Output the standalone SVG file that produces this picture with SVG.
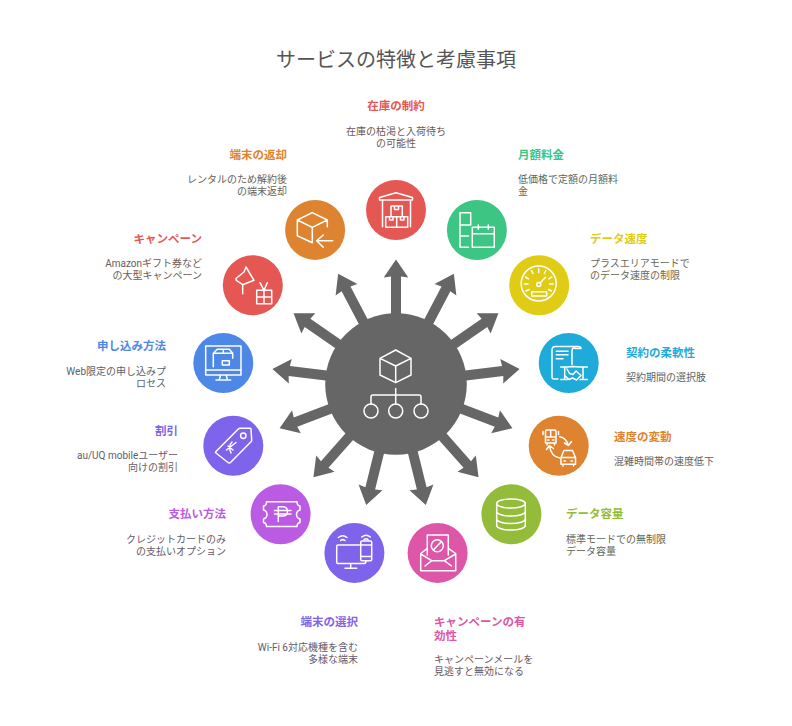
<svg xmlns="http://www.w3.org/2000/svg" width="792" height="726" viewBox="0 0 792 726">
<style>
text{font-family:"Roboto","Noto Sans CJK JP",sans-serif}
.title{font-size:20px;fill:#555;text-anchor:middle}
.l{font-size:11.5px;font-weight:700}
.d{font-size:10px}
.s{text-anchor:start}.e{text-anchor:end}.m{text-anchor:middle}
.i{fill:none;stroke:#fff;stroke-width:1.5;stroke-linejoin:round;stroke-linecap:round}
</style>
<defs>
<path id="arrow" d="M391 320V276.5L383.7 277.5L396 259.5L408.3 277.5L401 276.5V320Z" fill="#666"/>
</defs>
<rect width="792" height="726" fill="#fff"/>
<text class="title" x="396" y="66.5">サービスの特徴と考慮事項</text>
<g id="connectors">
<use href="#arrow"/>
<use href="#arrow" transform="rotate(27.69 396 384)"/>
<use href="#arrow" transform="rotate(55.38 396 384)"/>
<use href="#arrow" transform="rotate(83.08 396 384)"/>
<use href="#arrow" transform="rotate(110.77 396 384)"/>
<use href="#arrow" transform="rotate(138.46 396 384)"/>
<use href="#arrow" transform="rotate(166.15 396 384)"/>
<use href="#arrow" transform="rotate(193.85 396 384)"/>
<use href="#arrow" transform="rotate(221.54 396 384)"/>
<use href="#arrow" transform="rotate(249.23 396 384)"/>
<use href="#arrow" transform="rotate(276.92 396 384)"/>
<use href="#arrow" transform="rotate(304.62 396 384)"/>
<use href="#arrow" transform="rotate(332.31 396 384)"/>
</g>
<g id="hub">
<circle cx="396" cy="384" r="70.8" fill="#666"/>
<path class="i" d="M395.7 350L411 358.3V375L395.7 382.7L380 375V358.3ZM380 358.3L395.7 366L411 358.3M395.7 366V382.7M395.7 388.5V404M371 404V397Q371 395 373 395H419Q421 395 421 397V404"/>
<circle class="i" cx="371" cy="411" r="7"/><circle class="i" cx="395.7" cy="411" r="7"/><circle class="i" cx="421" cy="411" r="7"/>
</g>
<g id="n1">
<circle cx="396" cy="210" r="30" fill="#e55753"/>
<path class="i" d="M379.5 200V197.5L396 192.7L412.5 197.5V200ZM382.5 200V226.7M410.5 200V226.7M385.7 216.7H396.7V227.3H385.7ZM396.7 216.7H407.7V227.3H396.7ZM391 206H402.3V216.7H391ZM394.5 206V209.5H398.5V206M389.5 216.7V220H393V216.7M400.5 216.7V220H404V216.7"/>
<text class="l m" x="396" y="110" fill="#e55753">在庫の制約</text>
<text class="d m" x="396" y="135" fill="#6b5a59">在庫の枯渇と入荷待ち</text>
<text class="d m" x="396" y="147" fill="#6b5a59">の可能性</text>
</g>
<g id="n2">
<circle cx="476.9" cy="230" r="30" fill="#3cc583"/>
<path class="i" d="M460 212.7H470.7V225H460ZM460 225V247.3H468.5M460 236H468.5M472.3 227.3H494.3V247.3H472.3ZM472.3 233.8H494.3M478.3 225V229.3M488.3 225V229.3"/>
<text class="l s" x="518" y="159" fill="#3cc583">月額料金</text>
<text class="d s" x="518" y="183" fill="#596a61">低価格で定額の月額料</text>
<text class="d s" x="518" y="195" fill="#596a61">金</text>
</g>
<g id="n3">
<circle cx="539.2" cy="285.2" r="30" fill="#e0cb15"/>
<circle class="i" cx="538.7" cy="283.5" r="17.5"/><circle class="i" cx="538.7" cy="284.5" r="2"/>
<path class="i" d="M540.2 283L545.5 277.3M531.7 291.7H546.7V296H531.7ZM538.7 269V272.5M531.5 270.5L533 273.5M545.8 270.5L544.3 273.5M525.5 277L528.5 278.8M551.8 277L548.8 278.8M524.5 284H528M553 284H549.5M526 291L529 289.5M551.5 291L548.5 289.5"/>
<text class="l s" x="590" y="243" fill="#e0cb15">データ速度</text>
<text class="d s" x="590" y="267" fill="#696854">プラスエリアモードで</text>
<text class="d s" x="590" y="279" fill="#696854">のデータ速度の制限</text>
</g>
<g id="n4">
<circle cx="568.7" cy="363" r="30" fill="#1eabda"/>
<path class="i" d="M558 379H554Q552 379 552 377V350Q552 346.5 555.5 346.5H578Q581 346.5 581 348.5H575.5Q572 347 572 351V364.5M556.3 351.3H568M556.3 354.7H568M556.3 358.7H563M560.7 367H567L573 366.5L579 367H587.3M564.7 367V379M583 367V379M560.7 379.5H567.5M580 379.5H587.3M567 369L569.5 373.5L573 374.5L576 371L581 375.5L576.5 380L572.5 378L569 379.5L564.7 375.5"/>
<text class="l s" x="626" y="357" fill="#1eabda">契約の柔軟性</text>
<text class="d s" x="626" y="381" fill="#56656b">契約期間の選択肢</text>
</g>
<g id="n5">
<circle cx="558.7" cy="445.7" r="30" fill="#de8431"/>
<path class="i" d="M547 430H554.5Q556 430 556 431.5V443H545.5V431.5Q545.5 430 547 430ZM545.5 437H556M550.7 430V437M547.5 440H549M552.5 440H554M543 431.5V434.5M558.5 431.5V434.5M547 443V445M554.5 443V445M559.7 436.7Q566 437.5 568.5 445.5M571.5 441.5L568.5 445.5L564.5 443M559.7 458Q551 456.5 549.5 446M546.5 449.5L549.5 445.5L553.5 448.5M561 457.5L564 450.5H572.5L575.5 457.5V464.2H561ZM561 457.5H575.5M564 461H565.5M571 461H572.5M563 464.2V466M573.5 464.2V466"/>
<text class="l s" x="614" y="441" fill="#de8431">速度の変動</text>
<text class="d s" x="614" y="465" fill="#6a6056">混雑時間帯の速度低下</text>
</g>
<g id="n6">
<circle cx="511.4" cy="514.2" r="30" fill="#94bc3b"/>
<ellipse class="i" cx="511" cy="503.5" rx="14.3" ry="4.5"/>
<path class="i" d="M496.7 503.5V525.5C496.7 528 503 530 511 530C519 530 525.3 528 525.3 525.5V503.5M496.7 511.5C496.7 514 503 516 511 516C519 516 525.3 514 525.3 511.5M496.7 519C496.7 521.5 503 523.5 511 523.5C519 523.5 525.3 521.5 525.3 519"/>
<text class="l s" x="566" y="518" fill="#94bc3b">データ容量</text>
<text class="d s" x="566" y="543" fill="#5f6754">標準モードでの無制限</text>
<text class="d s" x="566" y="555" fill="#5f6754">データ容量</text>
</g>
<g id="n7">
<circle cx="437.6" cy="552.9" r="30" fill="#dd56a8"/>
<circle class="i" cx="437.3" cy="545.7" r="6"/>
<path class="i" d="M433.3 550L441.5 541.5M427.3 555V535H448.3V555M427.3 548.3L420.7 553.5V570.7H455.7V553.5L448.3 548.3M420.7 554L431.7 560.7H444.3L455.7 554M425 566L431.7 560.7M451.5 566L444.3 560.7"/>
<text class="l s" x="434" y="625.5" fill="#dd56a8">キャンペーンの有</text>
<text class="l s" x="434" y="639.5" fill="#dd56a8">効性</text>
<text class="d s" x="434" y="663" fill="#6a5963">キャンペーンメールを</text>
<text class="d s" x="434" y="675" fill="#6a5963">見逃すと無効になる</text>
</g>
<g id="n8">
<circle cx="354.4" cy="552.9" r="30" fill="#7e64ea"/>
<path class="i" d="M359.3 545H338Q336.7 545 336.7 546.3V562Q336.7 563.5 338 563.5H364Q366 563.5 366 561M350.7 563.5V568M345 568.3H356.7M362 541H370.5Q371.7 541 371.7 542.3V559.5Q371.7 560.7 370.5 560.7H362Q360.7 560.7 360.7 559.5V542.3Q360.7 541 362 541ZM360.7 545H371.7M360.7 556.5H371.7M338.3 537.5Q342.7 534 347 537.5M340.7 540.5Q342.7 538.7 345 540.5M361.7 537Q366 533.5 370.3 537M364 539.5Q366 538 368 539.5"/>
<text class="l e" x="358" y="625.5" fill="#7e64ea">端末の選択</text>
<text class="d e" x="358" y="651" fill="#615c6d">Wi-Fi 6対応機種を含む</text>
<text class="d e" x="358" y="663" fill="#615c6d">多様な端末</text>
</g>
<g id="n9">
<circle cx="280.6" cy="514.2" r="30" fill="#bb5be3"/>
<path class="i" d="M266.5 501.7H297Q297 505.5 300 506V510Q296.5 511 296.5 514.5Q296.5 518 300 519V522.5Q297 523 297 526.5H266.5Q266.5 523 263.5 522.5V519Q267 518 267 514.5Q267 511 263.5 510V506Q266.5 505.5 266.5 501.7ZM278.3 521.5V506.8H282.5Q287.5 506.8 287.5 511.5Q287.5 516 282.5 516H278.3M274.5 510.5H291M274.5 514H291"/>
<text class="l e" x="226" y="518" fill="#bb5be3">支払い方法</text>
<text class="d e" x="226" y="543" fill="#655a6a">クレジットカードのみ</text>
<text class="d e" x="226" y="555" fill="#655a6a">の支払いオプション</text>
</g>
<g id="n10">
<circle cx="233.3" cy="445.7" r="30" fill="#7e64ea"/>
<path class="i" d="M216 451.5L238.3 429Q239 428.3 240 428.3H250Q251 428.3 251 429.3L251.7 440Q251.7 441 251 441.7L230.5 462.5Q229.3 463.5 228 462.5L216 453Q215 452.3 216 451.5ZM226.5 450L236 442.5M232 442Q228 446 231 453M228 446L233 450"/>
<circle class="i" cx="243.3" cy="435.7" r="2.7"/>
<text class="l e" x="178" y="435" fill="#7e64ea">割引</text>
<text class="d e" x="178" y="459" fill="#615c6d">au/UQ mobileユーザー</text>
<text class="d e" x="178" y="471" fill="#615c6d">向けの割引</text>
</g>
<g id="n11">
<circle cx="223.3" cy="363" r="30" fill="#4e88e7"/>
<path class="i" d="M205.7 346H241V375H205.7ZM205.7 370H241M220.5 375L219.3 380M226.2 375L227.5 380M216 380H230.7M213.3 366.7V353.3L217.3 349.3H229.3L232.7 353.3V358.3M213.3 353.3H232.7M223.3 349.3V353.3M222.3 360.7H229.3V365H222.3Z"/>
<text class="l e" x="166" y="350" fill="#4e88e7">申し込み方法</text>
<text class="d e" x="166" y="375" fill="#5a616d">Web限定の申し込みプ</text>
<text class="d e" x="166" y="387" fill="#5a616d">ロセス</text>
</g>
<g id="n12">
<circle cx="252.8" cy="285.2" r="30" fill="#e55753"/>
<path class="i" d="M246 267L244 272L236.5 278Q235.5 279 236.5 280.5L242.7 284.7L254 280.3ZM242.7 284.7V293.7M256.7 290.3H271.7V303.7H256.7ZM264 290.3V303.7M256.7 297H271.7M260 282.7L264 290.3L267.3 282.7"/>
<text class="l e" x="202" y="243" fill="#e55753">キャンペーン</text>
<text class="d e" x="202" y="267" fill="#6b5a59">Amazonギフト券など</text>
<text class="d e" x="202" y="279" fill="#6b5a59">の大型キャンペーン</text>
</g>
<g id="n13">
<circle cx="315.1" cy="229.9" r="30" fill="#de8431"/>
<path class="i" d="M297.3 220L312.3 212.7L327.3 220V226.7M297.3 220V235.7L312.3 242.7M297.3 220L312.3 227.3L327.3 220M312.3 227.3V242.7M332.7 240.7H316.7M323.3 235L316.7 240.7L323.3 247.3"/>
<text class="l e" x="287" y="159" fill="#de8431">端末の返却</text>
<text class="d e" x="287" y="183" fill="#6a6056">レンタルのため解約後</text>
<text class="d e" x="287" y="195" fill="#6a6056">の端末返却</text>
</g>
</svg>
